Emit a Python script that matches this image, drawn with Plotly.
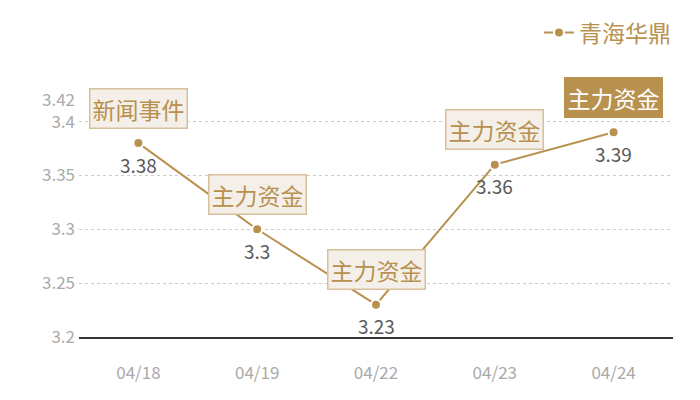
import plotly.graph_objects as go

# data
dates = ["04/18", "04/19", "04/22", "04/23", "04/24"]
prices = [3.38, 3.3, 3.23, 3.36, 3.39]
events = ["新闻事件", "主力资金", "主力资金", "主力资金", "主力资金"]
highlight = [False, False, False, False, True]
y_ticks = [3.2, 3.25, 3.3, 3.35, 3.4, 3.42]

gold = "#b8914f"
font_name = "Noto Sans CJK SC"

fig = go.Figure()

fig.add_trace(go.Scatter(
    x=dates,
    y=prices,
    name="青海华鼎",
    mode="lines+markers",
    line=dict(color=gold, width=2),
    marker=dict(color=gold, size=10, line=dict(color="white", width=2)),
))

for d, p, ev, hl in zip(dates, prices, events, highlight):
    # event tag above the point
    fig.add_annotation(
        x=d, y=p, xref="x", yref="y",
        text=ev,
        showarrow=False,
        yshift=35,
        font=dict(size=23, color="white" if hl else gold, family=font_name),
        bgcolor=gold if hl else "#f4efe9",
        bordercolor=gold if hl else "#d8c09a",
        borderwidth=1.5,
        borderpad=2,
    )
    # value label below the point
    fig.add_annotation(
        x=d, y=p, xref="x", yref="y",
        text=str(p),
        showarrow=False,
        yshift=-21,
        font=dict(size=19, color="#595959", family=font_name),
    )

# page body has an 8px margin, so margins are shifted to compensate
fig.update_layout(
    width=700, height=400,
    margin=dict(l=71, r=35, t=92, b=71, autoexpand=False),
    plot_bgcolor="white",
    paper_bgcolor="white",
    font=dict(family=font_name, color="#aaaaaa"),
    showlegend=True,
    legend=dict(
        orientation="h", x=1.005, xanchor="right", y=1.375, yanchor="top",
        font=dict(size=23, color=gold, family=font_name),
        itemwidth=30,
    ),
    xaxis=dict(
        type="category",
        range=[-0.5, 4.5],
        showgrid=False,
        showline=True, linecolor="#333333", linewidth=1.5,
        ticks="",
        ticklabelstandoff=20,
        tickfont=dict(size=17, color="#aaaaaa"),
    ),
    yaxis=dict(
        range=[3.2, 3.42],
        tickvals=y_ticks,
        ticktext=[str(t) for t in y_ticks],
        showgrid=True, gridcolor="#cccccc", griddash="dot", gridwidth=1,
        zeroline=False,
        showline=False,
        ticklabelstandoff=3,
        tickfont=dict(size=17, color="#aaaaaa"),
        ticklen=0,
    ),
)

fig.write_html("out.html")
